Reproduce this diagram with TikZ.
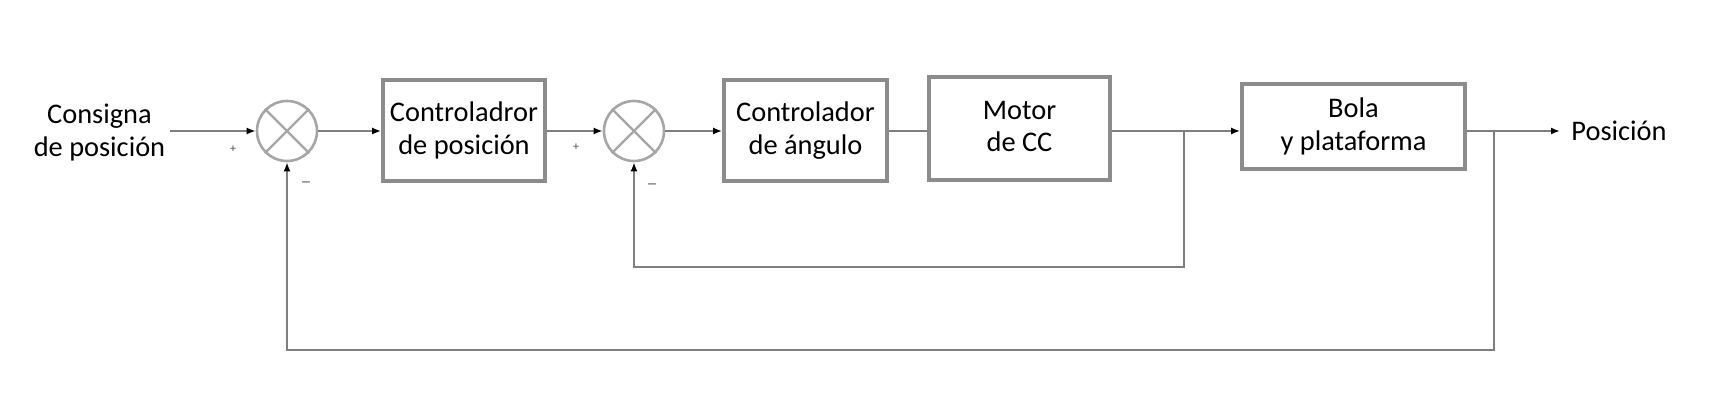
\documentclass[tikz,border=0pt]{standalone}
\usepackage{fontspec}
\setmainfont{Carlito}
\usetikzlibrary{arrows.meta}
\definecolor{linegray}{HTML}{7F7F7F}
\definecolor{boxgray}{HTML}{8C8C8C}
\definecolor{circgray}{HTML}{A6A6A6}
\tikzset{
  blk/.style={draw=boxgray, line width=1.8pt, fill=white, align=center, inner sep=0pt,
    font=\fontsize{14.2}{16.5}\selectfont},
  sumnode/.style={draw=circgray, line width=1.3pt, circle, minimum size=30pt, inner sep=0pt},
  wire/.style={draw=linegray, line width=1.4pt},
  arr/.style={wire, -{Latex[length=4.5pt,width=3.5pt,color=black]}},
  lbl/.style={align=center, inner sep=0pt, font=\fontsize{14.2}{16.5}\selectfont},
  sgn/.style={inner sep=0pt, text=linegray}
}
\begin{document}
\begin{tikzpicture}[x=0.5pt,y=-0.5pt]
\useasboundingbox (0,0) rectangle (1724,401);
% nodes
\node[lbl] (in) at (99.5,133) {Consigna\\de posición};
\coordinate (start) at (170,131);
\node[sumnode] (s1) at (287,131) {};
\node[blk, minimum width=81pt, minimum height=50.5pt] (c1) at (464,130.5) {Controladror\\de posición};
\node[sumnode] (s2) at (634,131) {};
\node[blk, minimum width=81.5pt, minimum height=50.5pt] (c2) at (805.5,130.5) {Controlador\\de ángulo};
\node[blk, minimum width=90.5pt, minimum height=51.5pt] (m) at (1019.5,128.5) {\raisebox{2pt}{\shortstack{Motor\\[3pt]de CC}}};
\node[blk, minimum width=111.5pt, minimum height=42.5pt] (p) at (1353.5,126.5) {Bola\\y plataforma};
\node[lbl, anchor=west] (out) at (1571,131) {Posición};
\coordinate (tip) at (1560,131);
\coordinate (b1) at (1184,131);
\coordinate (d1) at (1184,267);
\coordinate (b2) at (1494,131);
\coordinate (d2) at (1494,350);
% cross in summing junctions
\foreach \s in {s1,s2}{
  \draw[draw=circgray, line width=1.1pt] (\s.north east) -- (\s.south west);
  \draw[draw=circgray, line width=1.1pt] (\s.north west) -- (\s.south east);
}
% signs
\node[sgn, text=black!70, font=\fontsize{6}{6}\selectfont] (p1) at (233,149) {+};
\node[sgn, text=black!70, font=\fontsize{6}{6}\selectfont] (p2) at (576,147) {+};
\node[sgn, font=\fontsize{11}{11}\selectfont] (n1) at (306,185) {–};
\node[sgn, font=\fontsize{11}{11}\selectfont] (n2) at (652,187) {–};
% connectors
\draw[arr] (start) -- (s1.west);
\draw[arr] (s1.east) -- (c1.west |- s1);
\draw[arr] (c1.east |- s1) -- (s2.west);
\draw[arr] (s2.east) -- (c2.west |- s2);
\draw[wire] (c2.east |- s2) -- (m.west |- s2);
\draw[arr] (m.east |- s1) -- (p.west |- s1);
\draw[arr] (p.east |- s1) -- (tip);
\draw[arr] (b1) -- (d1) -| (s2.south);
\draw[arr] (b2) -- (d2) -| (s1.south);
\end{tikzpicture}
\end{document}
